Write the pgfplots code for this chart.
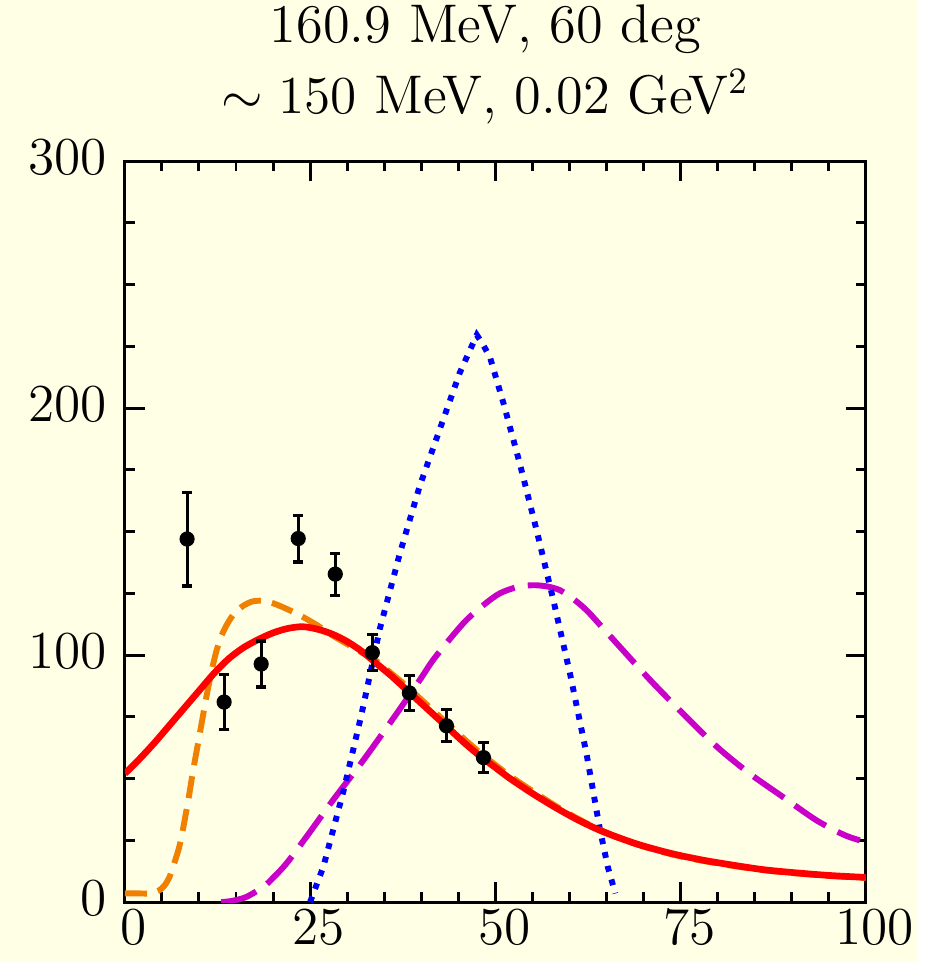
\documentclass[border=0pt]{standalone}
\usepackage{pgfplots}
\pgfplotsset{compat=1.18}
\definecolor{bgc}{RGB}{255,255,230}
\definecolor{corange}{RGB}{240,128,0}
\definecolor{cmag}{RGB}{200,0,200}
\definecolor{cblue}{RGB}{0,0,255}
\definecolor{cred}{RGB}{255,0,0}
\pgfplotstableread{
x y e
8.4 147 19
13.4 81 11
18.4 96.4 9.3
23.4 147.2 9.5
28.4 132.8 8.5
33.4 101 7.4
38.4 84.7 7
43.4 71.4 6.5
48.4 58.5 6.1
}\datatab
\begin{document}
\begin{tikzpicture}
\fill[bgc] (-33.7pt,-15.9pt) rectangle (213.8pt,243.5pt);
\begin{axis}[at={(0,0)}, anchor=south west, scale only axis,
  width=200pt, height=200pt,
  xmin=0, xmax=100, ymin=0, ymax=300,
  xtick={0,25,50,75,100}, ytick={0,100,200,300},
  minor x tick num=4, minor y tick num=3,
  tick align=inside,
  major tick length=5.4pt, minor tick length=2.7pt,
  axis line style={line width=0.8pt},
  every tick/.style={line width=0.8pt, black},
  ticklabel style={font=\fontsize{14.2}{17}\selectfont},
  xticklabel style={xshift=2.4pt, yshift=1.5pt},
  yticklabel style={yshift=1pt, xshift=-1.3pt},
  title={160.9 MeV, 60 deg\\$\sim 150$ MeV, 0.02 GeV$^2$},
  title style={at={(0.5,1)}, anchor=south, inner sep=0pt, yshift=3.9pt, xshift=-2.7pt, align=center, font=\fontsize{14.7}{19.1}\selectfont},
  clip=true,
]
% magenta long dashed
\addplot[cmag, line width=1.6pt, dash pattern=on 10pt off 3.6pt, smooth] coordinates {
(13,0) (14.5,0.5) (16.4,2.1) (18.7,6.2) (20,9.8) (21.8,15.6) (24.5,26.4) (28.1,41.3) (32.2,57.5) (36.7,76.4) (39.8,89.9) (41.6,98) (44,107) (46.1,114.2) (48.5,120.5) (50.6,125) (53,127.6) (55.1,128.3) (57,127.8) (58.7,126.3) (60.5,122.8) (62.3,118.2) (64.3,111.7) (66.4,104.7) (70.9,89.9) (75.3,76.4) (79.9,62.9) (84.3,52.1) (88.8,42.6) (93.3,33.2) (97,27.3) (99.2,25)
};
% blue dotted
\addplot[cblue, line width=1.6pt, dash pattern=on 1.6pt off 2.2pt] coordinates {
(25,0) (26.8,14.4) (29.5,44.9) (31.9,75.5) (34.4,110.5) (37.1,141) (39.8,168.5) (42.5,191.4) (45.2,214.3) (46.5,223) (47.5,229.6) (48.3,226) (49.3,220.4) (51.1,202) (53.3,177.6) (55.6,150.2) (57.8,122.7) (60.1,92.2) (62.3,60.2) (64.1,29.7) (65.2,14) (66.2,3.5)
};
% orange dashed
\addplot[corange, line width=1.6pt, dash pattern=on 6pt off 3pt, smooth] coordinates {
(0,3.5) (2,3.5) (3.5,3.5) (4.5,4.5) (5.3,6.5) (6,10) (6.7,16) (7.4,23) (8,32) (8.6,42) (9.2,53) (9.8,63) (10.4,73) (11,83) (11.6,92) (12.3,101) (13,107.5) (13.8,112.5) (14.8,117) (16,120) (17.2,121.7) (18.5,122) (20,121) (22,118.5) (24,115.5) (26,112) (28,108) (30,104.5) (32,101) (34,97.5) (36,92.5) (38,87.5) (40,82) (42,76.5) (44,71) (46,65.5) (48,60.3) (50,55.6) (52,51) (55,45) (58,39.2) (61,34) (64,29.4) (67,25.6) (70,22.5) (74,19.2) (78,16.7) (82,14.7) (86,13) (90,11.8) (95,10.6) (100,9.8)
};
% red solid
\addplot[cred, line width=1.8pt, smooth] coordinates {
(0,52) (2,58) (4,64.5) (6,71.5) (8,78.5) (10,85.5) (12,92.5) (14,98.5) (16,103) (18,106.3) (20,109) (22,110.8) (24,111.5) (26,110.5) (28,108.5) (30,105.5) (32,101.5) (34,96.5) (36,91.5) (38,86) (40,80.5) (42,75) (44,69.5) (46,64) (48,59) (50,54.5) (52,50) (55,44) (58,38.5) (61,33.5) (64,29.2) (67,25.7) (70,22.7) (74,19.5) (78,17) (82,15) (86,13.2) (90,12) (95,10.8) (100,10)
};
% data
\addplot[black, only marks, mark=*, mark size=1.85pt,
  error bars/.cd, y dir=both, y explicit,
  error bar style={line width=0.85pt, black},
  error mark options={rotate=90, mark size=1.4pt, line width=0.85pt, black}]
  table[x=x, y=y, y error=e] {\datatab};
\end{axis}
\end{tikzpicture}
\end{document}
